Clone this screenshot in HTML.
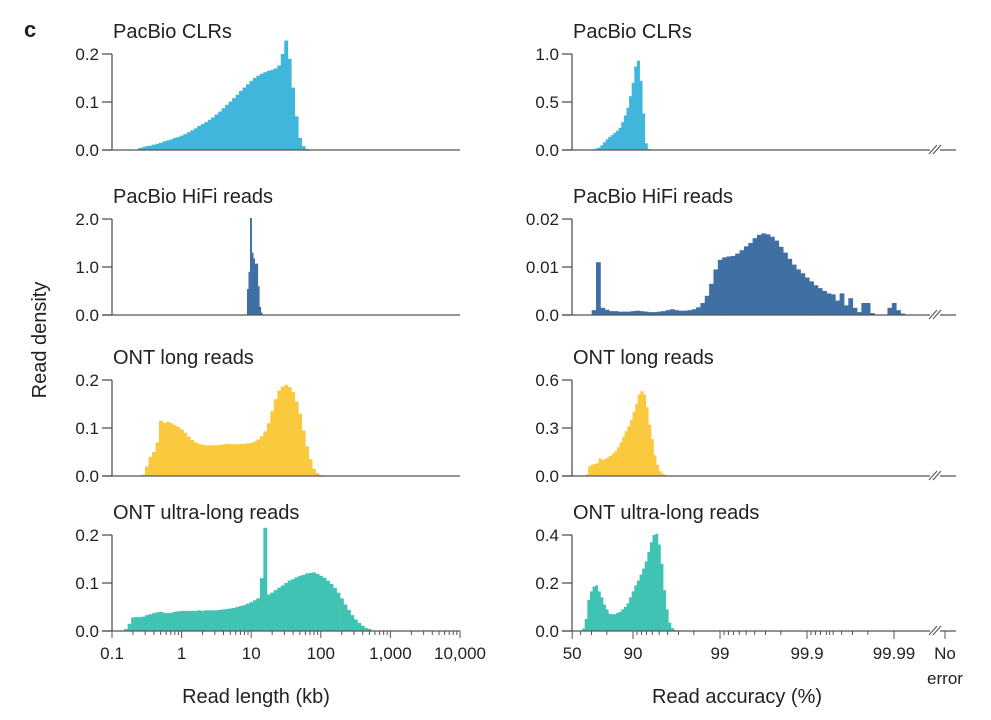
<!DOCTYPE html>
<html><head><meta charset="utf-8"><style>
body{margin:0;background:#fff;}
svg{display:block;font-family:"Liberation Sans",sans-serif;}
</style></head><body>
<svg id="fig" width="991" height="720" viewBox="0 0 991 720" xmlns="http://www.w3.org/2000/svg">
<text x="24" y="37" font-size="22" font-weight="bold" fill="#222">c</text>
<text transform="translate(46,340) rotate(-90)" text-anchor="middle" font-size="20" fill="#222">Read density</text>
<text x="256" y="703" text-anchor="middle" font-size="20" fill="#222">Read length (kb)</text>
<text x="737" y="703" text-anchor="middle" font-size="20" fill="#222">Read accuracy (%)</text>
</svg>
<script>
// ---- data ----
const titles = ["PacBio CLRs","PacBio HiFi reads","ONT long reads","ONT ultra-long reads"];
const colors = ["#41b6dc","#3f6fa3","#fbc93d","#40c3b3"];
const leftMax = [0.2,2.0,0.2,0.2];
const leftTicks = [["0.0","0.1","0.2"],["0.0","1.0","2.0"],["0.0","0.1","0.2"],["0.0","0.1","0.2"]];
const rightMax = [1.0,0.02,0.6,0.4];
const rightTicks = [["0.0","0.5","1.0"],["0.0","0.01","0.02"],["0.0","0.3","0.6"],["0.0","0.2","0.4"]];
const lenStart = [-0.6,0.95,-0.55,-0.8];
const lenStep = [0.05,0.022,0.05,0.05];
const lenClr = [0.004,0.006,0.008,0.009,0.011,0.013,0.015,0.018,0.02,0.022,0.025,0.027,0.03,0.033,0.037,0.041,0.045,0.05,0.054,0.058,0.063,0.068,0.074,0.08,0.087,0.094,0.101,0.108,0.115,0.123,0.13,0.137,0.144,0.15,0.155,0.159,0.162,0.165,0.167,0.17,0.176,0.2,0.228,0.19,0.13,0.07,0.025,0.008,0.002];
const lenHifi = [0.54,0.9,2.02,1.3,1.18,1.07,1.07,0.6,0.17,0.05];
const lenOnt = [0.003,0.02,0.04,0.05,0.07,0.115,0.11,0.113,0.11,0.106,0.102,0.097,0.09,0.082,0.075,0.07,0.067,0.065,0.064,0.064,0.064,0.064,0.065,0.066,0.067,0.066,0.066,0.066,0.067,0.067,0.068,0.069,0.072,0.076,0.083,0.093,0.11,0.135,0.16,0.178,0.186,0.19,0.185,0.175,0.155,0.13,0.095,0.062,0.035,0.015,0.006,0.002];
const lenUl = [0.004,0.015,0.028,0.029,0.029,0.03,0.033,0.035,0.037,0.039,0.04,0.038,0.037,0.038,0.04,0.041,0.042,0.042,0.042,0.042,0.042,0.043,0.042,0.043,0.043,0.043,0.043,0.044,0.045,0.046,0.047,0.048,0.05,0.052,0.054,0.057,0.06,0.064,0.068,0.11,0.215,0.076,0.08,0.085,0.09,0.095,0.1,0.105,0.108,0.112,0.115,0.117,0.12,0.121,0.122,0.119,0.115,0.111,0.105,0.098,0.09,0.08,0.068,0.055,0.044,0.033,0.024,0.017,0.011,0.006,0.004,0.001];
const accStart = [0.55,0.5,0.47,0.43];
const accStep = [0.03,0.05,0.03,0.03];
const accClr = [0.008,0.015,0.025,0.05,0.08,0.11,0.135,0.155,0.18,0.2,0.23,0.29,0.36,0.44,0.56,0.7,0.87,0.93,0.72,0.38,0.07,0.01];
const accHifi = [0,0.001,0.011,0.0015,0.0011,0.0008,0.0008,0.0007,0.0007,0.0007,0.0008,0.0009,0.0008,0.0007,0.0006,0.0006,0.0007,0.0008,0.001,0.0012,0.001,0.0009,0.0009,0.001,0.0012,0.0016,0.0025,0.004,0.0065,0.0095,0.0115,0.012,0.0122,0.0123,0.0128,0.0135,0.0143,0.015,0.016,0.0167,0.017,0.0168,0.0163,0.0155,0.0142,0.013,0.0117,0.0105,0.0095,0.0087,0.0078,0.007,0.0062,0.0056,0.005,0.0045,0.0043,0.003,0.0045,0.002,0.0035,0.0015,0.0006,0.0025,0.0025,0.0004,0,0,0,0.0015,0.0025,0.001,0.0003];
const accOnt = [0.01,0.06,0.07,0.075,0.08,0.11,0.1,0.105,0.115,0.125,0.14,0.155,0.18,0.21,0.245,0.28,0.31,0.35,0.4,0.45,0.51,0.53,0.51,0.43,0.32,0.23,0.13,0.07,0.03,0.015,0.007,0.002];
const accUl = [0.01,0.05,0.13,0.165,0.185,0.19,0.165,0.14,0.11,0.09,0.072,0.07,0.07,0.075,0.08,0.09,0.1,0.115,0.14,0.165,0.19,0.21,0.235,0.26,0.29,0.33,0.37,0.4,0.405,0.36,0.28,0.17,0.09,0.035,0.012,0.004,0.001];
const lenSeries = [lenClr,lenHifi,lenOnt,lenUl];
const accSeries = [accClr,accHifi,accOnt,accUl];
const lenTickVals = [0.1,1,10,100,1000,10000];
const lenTickLabels = ["0.1","1","10","100","1,000","10,000"];
const accTickVals = [50,90,99,99.9,99.99];
const accTickLabels = ["50","90","99","99.9","99.99"];

// ---- layout / scales ----
const NS="http://www.w3.org/2000/svg";
const svg=document.getElementById('fig');
const base=[150,315,476,631], ph=96;
const LX0=112, LX1=460, RX0=572, RX1=956;
const xL = lg => LX0 + (lg+1)*69.6;
const xR = q => 633 + (q-1)*87;
const qOf = a => -Math.log10(1-a/100);
const NOERR_X = 945;
function el(tag,attrs,parent){const e=document.createElementNS(NS,tag);for(const k in attrs)e.setAttribute(k,attrs[k]);(parent||svg).appendChild(e);return e;}

for(let r=0;r<4;r++){
  for(let side=0;side<2;side++){
    const g=el('g',{});
    
    
    const x0=side?RX0:LX0, x1=side?RX1:LX1, b=base[r];
    const mx=side?rightMax[r]:leftMax[r];
    const y=v=>b-v/mx*ph;
    const t=el('text',{x:x0+1,y:b-ph-16,'font-size':20,fill:'#222'},g);
    t.textContent=titles[r];
    
    
    // bars
    const vals=side?accSeries[r]:lenSeries[r];
    const st=side?accStart[r]:lenStart[r], sp=side?accStep[r]:lenStep[r];
    const xf=side?xR:xL;
    vals.forEach((v,i)=>{
      if(v<=0)return;
      const a=xf(st+i*sp-sp/2), c=xf(st+i*sp+sp/2);
      const rc=el('rect',{x:a,y:y(v),width:c-a+0.4,height:b-y(v),fill:colors[r]},g);
      
      
    });
    // axes
    el('line',{x1:x0,y1:b-ph,x2:x0,y2:b,stroke:'#555','stroke-width':1.3},g);
    el('line',{x1:x0-10,y1:b,x2:x1,y2:b,stroke:'#555','stroke-width':1.3},g);
    const labs=side?rightTicks[r]:leftTicks[r];
    labs.forEach((L,i)=>{
      const yy=b-i*ph/2;
      el('line',{x1:x0-10,y1:yy,x2:x0,y2:yy,stroke:'#555','stroke-width':1.3},g);
      const tx=el('text',{x:x0-13,y:yy+6,'text-anchor':'end','font-size':17,fill:'#222'},g);
      tx.textContent=L;
      
      
    });
    if(side){
      // axis break
      el('rect',{x:930,y:b-4,width:10,height:8,fill:'#fff'},g);
      el('line',{x1:929,y1:b+4,x2:937,y2:b-5,stroke:'#555','stroke-width':1.1},g);
      el('line',{x1:933,y1:b+4,x2:941,y2:b-5,stroke:'#555','stroke-width':1.1},g);
    }
    if(r===3){
      if(!side){
        for(let d=-1;d<4;d++){for(let m=1;m<10;m++){const xx=xL(d+Math.log10(m));el('line',{x1:xx,y1:b,x2:xx,y2:b+(m===1?7:4),stroke:'#555','stroke-width':1},g);}}
        const xx=xL(4);el('line',{x1:xx,y1:b,x2:xx,y2:b+7,stroke:'#555','stroke-width':1},g);
        lenTickVals.forEach((v,i)=>{const tx=el('text',{x:xL(Math.log10(v)),y:b+28,'text-anchor':'middle','font-size':17,fill:'#222'},g);tx.textContent=lenTickLabels[i];
          
          });
      } else {
        const minors=[60,70,80,91,92,93,94,95,96,97,98];
        [99,99.9].forEach(p=>{for(let k=1;k<9;k++)minors.push(p+k*(100-p)/10);});
        minors.push(99.9+0.09*0.5);
        minors.forEach(a=>{const xx=xR(qOf(a));el('line',{x1:xx,y1:b,x2:xx,y2:b+4,stroke:'#555','stroke-width':1},g);});
        accTickVals.forEach((v,i)=>{const xx=xR(qOf(v));el('line',{x1:xx,y1:b,x2:xx,y2:b+8,stroke:'#555','stroke-width':1},g);
          const tx=el('text',{x:xx,y:b+28,'text-anchor':'middle','font-size':17,fill:'#222'},g);tx.textContent=accTickLabels[i];
          
          });
        el('line',{x1:NOERR_X,y1:b,x2:NOERR_X,y2:b+8,stroke:'#555','stroke-width':1},g);
        const n1=el('text',{x:NOERR_X,y:b+28,'text-anchor':'middle','font-size':17,fill:'#222'},g);n1.textContent='No';
        
        
        const n2=el('text',{x:NOERR_X,y:b+53,'text-anchor':'middle','font-size':17,fill:'#222'},g);n2.textContent='error';
        
        
      }
    }
  }
}
</script>
</body></html>
